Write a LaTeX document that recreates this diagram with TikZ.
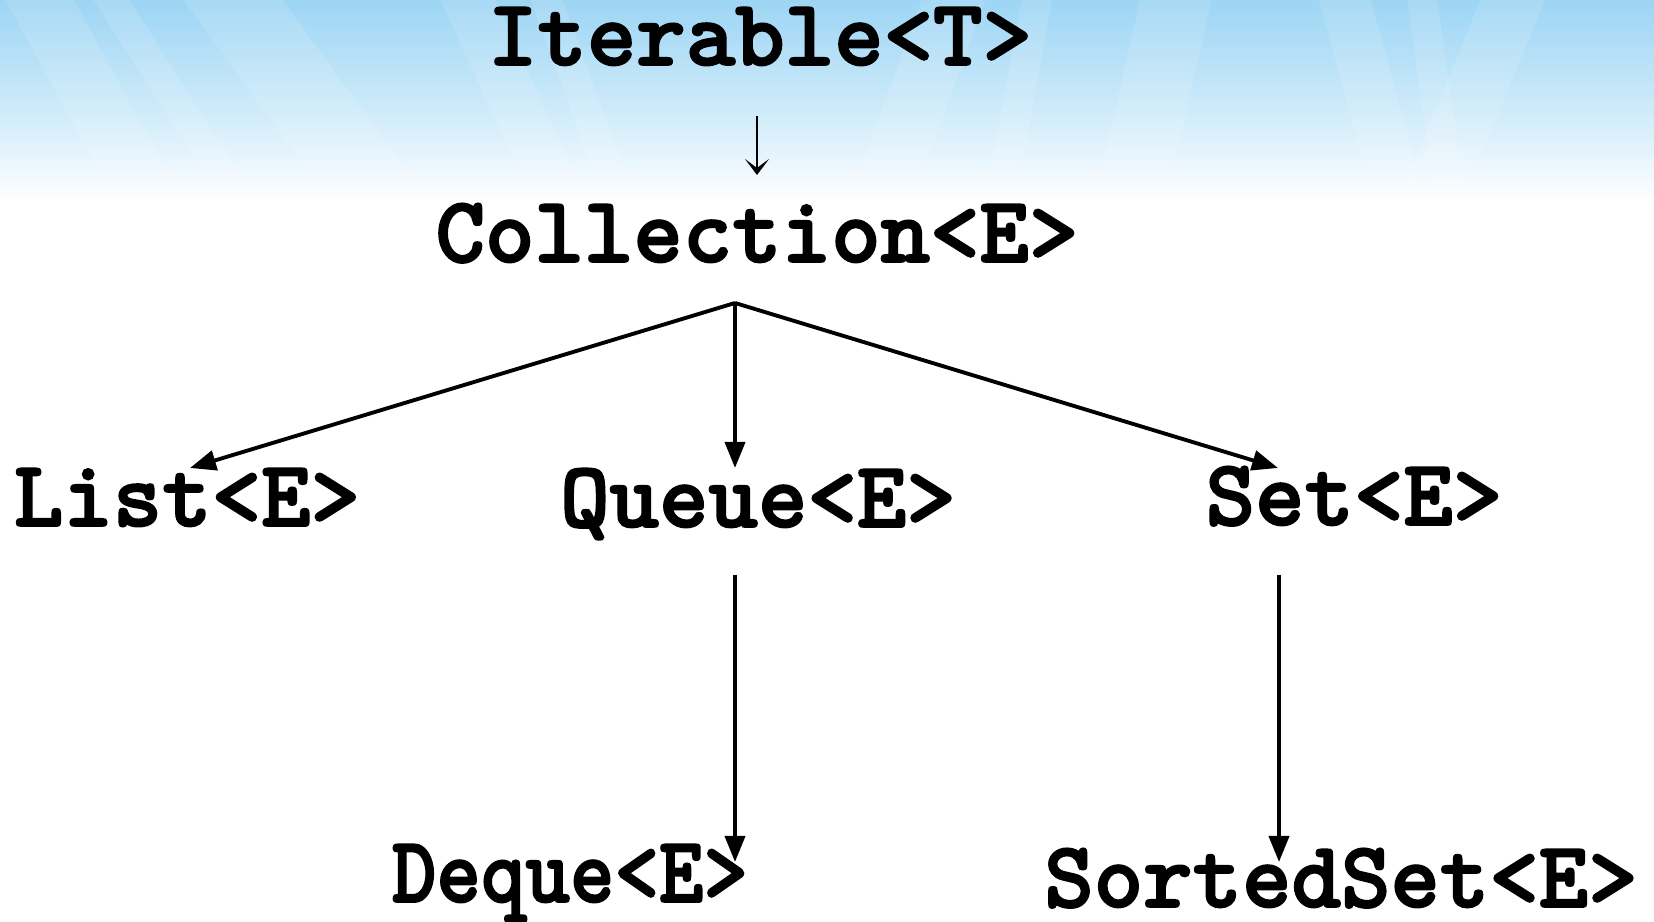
\documentclass[tikz,border=0pt]{standalone}
\usepackage{fontspec}
\newfontfamily\ifacefont{lmmonolt10-bold.otf}[FakeBold=2]
\usetikzlibrary{arrows.meta}
\definecolor{SkyTop}{HTML}{9DD5F4}
\definecolor{SkyMid}{HTML}{CFEBFA}

\begin{document}
\begin{tikzpicture}[
    >={Triangle[length=2.6mm,width=2mm]},
    iface/.style={anchor=base,inner sep=0pt,
      font=\fontsize{26.8}{32}\selectfont\ifacefont},
    inherit/.style={->,line width=1.1pt},
    hint/.style={-{Stealth[length=1.6mm,width=2.4mm,inset=0.9mm]},line width=0.8pt}
  ]
  \useasboundingbox (0,0) rectangle (16.54,9.22);
  % sky band at the top
  \fill[white] (0,0) rectangle (16.54,9.22);
  \shade[top color=SkyTop,bottom color=SkyMid] (0,8.1) rectangle (16.54,9.22);
  \shade[top color=SkyMid,bottom color=white] (0,7.2) rectangle (16.54,8.1);
  \begin{scope}
    \clip (0,7.2) rectangle (16.54,9.22);
    \foreach \x/\d/\w in {0.3/1.2/6,1.0/1.4/3,2.2/1.6/8,4.6/1.0/5,5.4/0.8/3,9.6/-0.8/6,
        10.4/-0.4/3,11.8/-0.5/7,13.4/0.6/5,14.2/0.3/3,15.2/-0.9/6}
      \draw[white,opacity=0.12,line width=\w mm,line cap=round] (\x,9.4) -- ++(\d,-2.2);
  \end{scope}

  % interfaces
  \node[iface] (iterable) at (7.60,8.57) {Iterable<T>};
  \node[iface] (collection) at (7.57,6.60) {Collection<E>};
  \node[iface] (list) at (1.87,3.96) {List<E>};
  \node[iface] (queue) at (7.58,3.95) {Queue<E>};
  \node[iface] (set) at (13.54,3.97) {Set<E>};
  \node[iface] (deque) at (5.70,0.20) {\scalebox{0.9}[1]{Deque<E>}};
  \node[iface] (sortedset) at (13.41,0.15) {SortedSet<E>};

  % arrow ends
  \coordinate (iterable-out) at (7.57,8.06);
  \coordinate (collection-in) at (7.57,7.47);
  \coordinate (fork) at (7.35,6.19);
  \coordinate (list-in) at (1.90,4.54);
  \coordinate (queue-in) at (7.35,4.54);
  \coordinate (set-in) at (12.78,4.54);
  \coordinate (queue-out) at (7.35,3.47);
  \coordinate (set-out) at (12.79,3.47);
  \coordinate (deque-in) at (7.35,0.60);
  \coordinate (sortedset-in) at (12.79,0.60);

  \draw[hint] (iterable-out) -- (collection-in);
  \draw[inherit] (fork) -- (list-in);
  \draw[inherit] (fork) -- (queue-in);
  \draw[inherit] (fork) -- (set-in);
  \draw[inherit] (queue-out) -- (deque-in);
  \draw[inherit] (set-out) -- (sortedset-in);
\end{tikzpicture}
\end{document}
